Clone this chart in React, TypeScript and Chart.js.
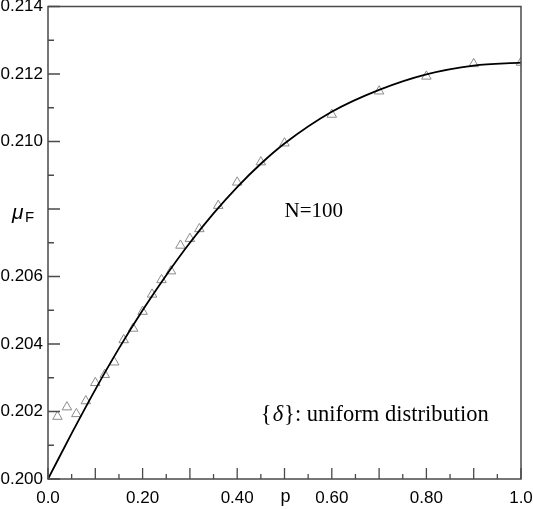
import { useEffect, useRef } from "react";
import { Chart, registerables } from "chart.js";

Chart.register(...registerables);

// Fitted curve (solid line)
const curveP = [0, 0.05, 0.1, 0.15, 0.2, 0.25, 0.3, 0.35, 0.4, 0.45, 0.5, 0.6, 0.7, 0.8, 0.9, 1.0];
const curveMu = [0.2, 0.20135, 0.20265, 0.20387, 0.205, 0.20604, 0.207, 0.20787, 0.20865, 0.20934, 0.20994, 0.21088, 0.21153, 0.21199, 0.21225, 0.21234];

// Simulation results (open triangles)
const simP = [0.02, 0.04, 0.06, 0.08, 0.1, 0.12, 0.14, 0.16, 0.18, 0.2, 0.22, 0.24, 0.26, 0.28, 0.3, 0.32, 0.36, 0.4, 0.45, 0.5, 0.6, 0.7, 0.8, 0.9, 1.0];
const simMu = [0.20185, 0.20213, 0.20193, 0.20231, 0.20285, 0.20309, 0.20346, 0.20412, 0.20446, 0.20496, 0.20547, 0.2059, 0.20616, 0.20692, 0.20712, 0.20741, 0.2081, 0.20879, 0.20939, 0.20995, 0.2108, 0.21149, 0.21193, 0.2123, 0.21234];

// Tick labels (0.208 is left blank: the axis title sits there)
const xLabelValues = [0, 0.2, 0.4, 0.6, 0.8, 1.0];
const xLabelTexts = ["0.0", "0.20", "0.40", "0.60", "0.80", "1.0"];
const yLabelValues = [0.2, 0.202, 0.204, 0.206, 0.21, 0.212, 0.214];
const yLabelTexts = ["0.200", "0.202", "0.204", "0.206", "0.210", "0.212", "0.214"];

const SANS = "'Liberation Sans', Arial, sans-serif";
const SERIF = "'Liberation Serif', 'Times New Roman', serif";

function findLabel(v: number, vals: number[], texts: string[]) {
  for (let i = 0; i < vals.length; i++) {
    if (Math.abs(v - vals[i]) < 1e-7) return texts[i];
  }
  return "";
}

const framePlugin = {
  id: "framePlugin",
  afterDatasetsDraw(chart: any) {
    const { ctx, chartArea, scales } = chart;
    const xs = scales.x;
    const ys = scales.y;
    ctx.save();
    ctx.strokeStyle = "#4a4a4a";
    ctx.lineWidth = 1.5;
    ctx.strokeRect(chartArea.left, chartArea.top, chartArea.right - chartArea.left, chartArea.bottom - chartArea.top);
    // inward ticks
    ctx.lineWidth = 1.3;
    ctx.beginPath();
    xs.ticks.forEach((t: any) => {
      const v = t.value;
      const px = xs.getPixelForValue(v);
      const major = Math.round(v * 100) % 10 === 0;
      const len = major ? 11 : 5;
      ctx.moveTo(px, chartArea.bottom);
      ctx.lineTo(px, chartArea.bottom - len);
    });
    ys.ticks.forEach((t: any) => {
      const v = t.value;
      const py = ys.getPixelForValue(v);
      const major = Math.round(v * 1000) % 2 === 0;
      const len = major ? 12 : 6;
      ctx.moveTo(chartArea.left, py);
      ctx.lineTo(chartArea.left + len, py);
    });
    ctx.stroke();

    // axis titles
    ctx.fillStyle = "#000";
    ctx.textBaseline = "alphabetic";
    ctx.textAlign = "center";
    ctx.font = `18px ${SANS}`;
    ctx.fillText("p", xs.getPixelForValue(0.5) + 1, chartArea.bottom + 23);

    ctx.textAlign = "left";
    const muY = ys.getPixelForValue(0.20769);
    ctx.font = `italic 21px ${SANS}`;
    ctx.fillText("μ", 12, muY);
    ctx.font = `15px ${SANS}`;
    ctx.fillText("F", 25, muY + 3);

    // annotations
    ctx.font = `21px ${SERIF}`;
    ctx.fillText("N=100", xs.getPixelForValue(0.5), ys.getPixelForValue(0.20776));

    const ax = xs.getPixelForValue(0.45);
    const ay = ys.getPixelForValue(0.20171);
    ctx.font = `22.5px ${SERIF}`;
    let cx = ax;
    ctx.fillText("{", cx, ay);
    cx += ctx.measureText("{").width + 1;
    ctx.font = `italic 22.5px ${SERIF}`;
    ctx.fillText("δ", cx, ay);
    cx += ctx.measureText("δ").width + 1;
    ctx.font = `22.5px ${SERIF}`;
    ctx.fillText("}: uniform distribution", cx, ay);
    ctx.restore();
  },
};

export default function App() {
  const ref = useRef<HTMLCanvasElement | null>(null);
  useEffect(() => {
    if (!ref.current) return;
    const chart = new Chart(ref.current, {
      type: "scatter",
      data: {
        datasets: [
          {
            label: "theory",
            data: curveP.map((p, i) => ({ x: p, y: curveMu[i] })),
            showLine: true,
            borderColor: "#000",
            borderWidth: 1.8,
            pointRadius: 0,
            cubicInterpolationMode: "monotone",
            fill: false,
          } as any,
          {
            label: "simulation",
            data: simP.map((p, i) => ({ x: p, y: simMu[i] })),
            showLine: false,
            pointStyle: "triangle",
            pointRadius: 5.5,
            pointBorderWidth: 1,
            pointBorderColor: "#8c8c8c",
            pointBackgroundColor: "rgba(255,255,255,0)",
          } as any,
        ],
      },
      options: {
        animation: false,
        responsive: false,
        devicePixelRatio: 1,
        layout: { padding: { left: 0, right: 12, top: 6, bottom: 0 } },
        plugins: {
          legend: { display: false },
          tooltip: { enabled: false },
        },
        scales: {
          x: {
            type: "linear",
            min: 0,
            max: 1,
            grid: { display: false, drawTicks: false },
            border: { display: false },
            ticks: {
              stepSize: 0.05,
              autoSkip: false,
              maxRotation: 0,
              padding: 9,
              color: "#000",
              font: { family: SANS, size: 17 },
              callback: (v: any) => findLabel(Number(v), xLabelValues, xLabelTexts),
            },
            afterFit: (s: any) => {
              s.height = 30;
              s.paddingLeft = 0;
              s.paddingRight = 0;
              s.paddingTop = 0;
              s.paddingBottom = 0;
            },
          },
          y: {
            type: "linear",
            min: 0.2,
            max: 0.214,
            grid: { display: false, drawTicks: false },
            border: { display: false },
            ticks: {
              stepSize: 0.001,
              autoSkip: false,
              padding: 5,
              color: "#000",
              font: { family: SANS, size: 17 },
              callback: (v: any) => findLabel(Number(v), yLabelValues, yLabelTexts),
            },
            afterFit: (s: any) => {
              s.width = 48;
              s.paddingLeft = 0;
              s.paddingRight = 0;
              s.paddingTop = 0;
              s.paddingBottom = 0;
            },
          },
        },
      },
      plugins: [framePlugin],
    });
    return () => chart.destroy();
  }, []);
  return (
    <div style={{ position: "absolute", left: 0, top: 0, width: 533, height: 509, background: "#fff" }}>
      <canvas ref={ref} width={533} height={509} style={{ display: "block" }} />
    </div>
  );
}
